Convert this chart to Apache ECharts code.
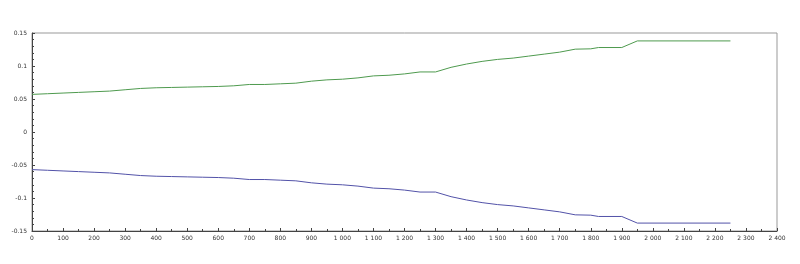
<!DOCTYPE html>
<html><head><meta charset="utf-8">
<script src="https://cdn.jsdelivr.net/npm/echarts@6/dist/echarts.min.js"></script>
<style>html,body{margin:0;padding:0;background:#fff}#c{width:800px;height:264px}</style>
</head><body><div id="c"></div>
<script>
const xValues = [0,50,100,150,200,250,300,350,400,450,500,550,600,650,700,750,800,850,900,950,1000,1050,1100,1150,1200,1250,1300,1350,1400,1450,1500,1550,1600,1650,1700,1750,1800,1825,1900,1950,2250];
const upperValues = [0.057,0.058,0.059,0.060,0.061,0.062,0.064,0.066,0.067,0.0675,0.068,0.0685,0.069,0.070,0.072,0.072,0.073,0.074,0.077,0.079,0.080,0.082,0.085,0.086,0.088,0.091,0.091,0.098,0.103,0.107,0.110,0.112,0.115,0.118,0.121,0.1255,0.126,0.128,0.128,0.138,0.138];
const lowerValues = [-0.057,-0.058,-0.059,-0.060,-0.061,-0.062,-0.064,-0.066,-0.067,-0.0675,-0.068,-0.0685,-0.069,-0.070,-0.072,-0.072,-0.073,-0.074,-0.077,-0.079,-0.080,-0.082,-0.085,-0.086,-0.088,-0.091,-0.091,-0.098,-0.103,-0.107,-0.110,-0.112,-0.115,-0.118,-0.121,-0.1255,-0.126,-0.128,-0.128,-0.138,-0.138];

const chart = echarts.init(document.getElementById('c'), null, {renderer:'canvas'});
const fmtX = v => { const s = String(Math.round(v)); return s.length > 3 ? s.slice(0, s.length-3) + ' ' + s.slice(-3) : s; };
chart.setOption({
  animation:false,
  grid:{left:32,right:23,top:33,bottom:33,show:true,borderColor:'#999',borderWidth:1,backgroundColor:'transparent'},
  xAxis:{type:'value',min:0,max:2400,interval:100,
    axisLine:{show:true,onZero:false,lineStyle:{color:'#444',width:1}},
    axisTick:{show:true,inside:true,length:3,lineStyle:{color:'#444'}},
    minorTick:{show:true,splitNumber:2,length:2,lineStyle:{color:'#444'}},
    splitLine:{show:false},
    axisLabel:{fontSize:6,color:'#333',margin:4,fontFamily:'DejaVu Sans',formatter:fmtX}},
  yAxis:{type:'value',min:-0.15,max:0.15,interval:0.05,
    axisLine:{show:true,onZero:false,lineStyle:{color:'#444',width:1}},
    axisTick:{show:true,inside:true,length:3,lineStyle:{color:'#444'}},
    minorTick:{show:true,splitNumber:5,length:2,lineStyle:{color:'#444'}},
    splitLine:{show:false},
    axisLabel:{fontSize:6,color:'#333',margin:5,fontFamily:'DejaVu Sans'}},
  series:[
    {type:'line',data:xValues.map((x,i)=>[x,upperValues[i]]),showSymbol:false,lineStyle:{color:'#4e9a4e',width:1},itemStyle:{color:'#4e9a4e'}},
    {type:'line',data:xValues.map((x,i)=>[x,lowerValues[i]]),showSymbol:false,lineStyle:{color:'#5252a8',width:1},itemStyle:{color:'#5252a8'}}
  ]
});
</script></body></html>
